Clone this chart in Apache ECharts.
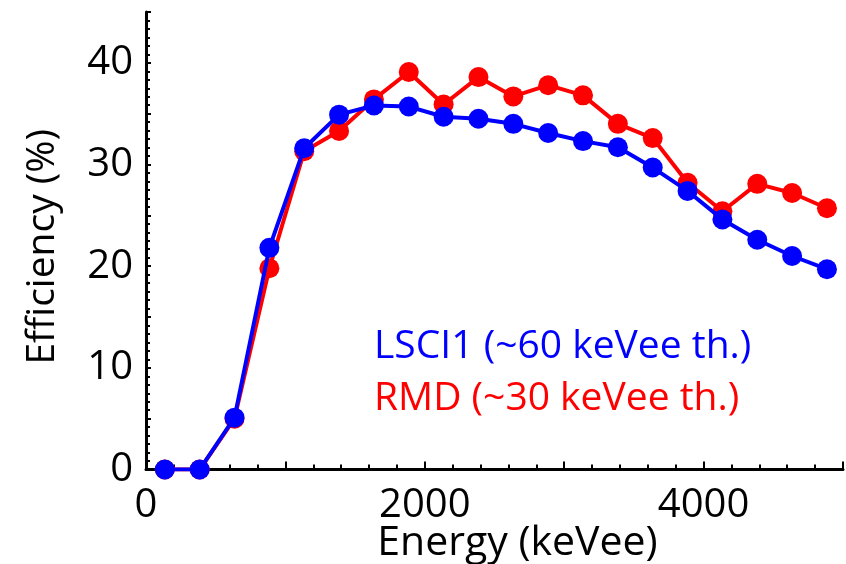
<!DOCTYPE html>
<html>
<head>
<meta charset="utf-8">
<script src="https://cdn.jsdelivr.net/npm/echarts@6/dist/echarts.min.js"></script>
<style>html,body{margin:0;padding:0;background:#fff;}#c{width:846px;height:564px;}</style>
</head>
<body>
<div id="c"></div>
<script>
var energies = [135, 385, 635, 885, 1135, 1385, 1635, 1885, 2135, 2385, 2635, 2885, 3135, 3385, 3635, 3885, 4135, 4385, 4635, 4885];
var lsciValues = [0, 0, 5.1, 21.8, 31.6, 34.9, 35.8, 35.7, 34.7, 34.5, 34.0, 33.1, 32.3, 31.7, 29.7, 27.4, 24.6, 22.6, 21.0, 19.7];
var rmdValues = [0, 0, 5.0, 19.8, 31.3, 33.3, 36.4, 39.1, 35.9, 38.6, 36.7, 37.8, 36.8, 34.0, 32.6, 28.2, 25.4, 28.1, 27.2, 25.7];
var xTickLabels = ['0', '2000', '4000'];
var yTickLabels = ['0', '10', '20', '30', '40'];
var legendTexts = ['LSCI1 (~60 keVee th.)', 'RMD (~30 keVee th.)'];

function pairs(xs, ys) { return xs.map(function (x, i) { return [x, ys[i]]; }); }

var FONT = 'Open Sans';
var chart = echarts.init(document.getElementById('c'), null, { renderer: 'canvas' });
chart.setOption({
  animation: false,
  backgroundColor: '#ffffff',
  grid: { left: 146, right: 3, top: 12, bottom: 94.5, containLabel: false, outerBoundsMode: 'none' },
  xAxis: {
    type: 'value', min: 0, max: 5000, interval: 1000,
    name: 'Energy (keVee)', nameLocation: 'middle', nameGap: 53, nameMoveOverlap: false,
    nameTextStyle: { fontFamily: FONT, fontSize: 41, color: '#000', padding: [0, 0, 0, 46] },
    axisLine: { show: true, lineStyle: { color: '#000', width: 3 } },
    axisTick: { show: true, inside: true, length: 8, lineStyle: { color: '#000', width: 2 } },
    minorTick: { show: true, splitNumber: 5, length: 5, lineStyle: { color: '#000', width: 2 } },
    splitLine: { show: false },
    axisLabel: {
      fontFamily: FONT, fontSize: 40, color: '#000', margin: 16,
      formatter: function (v) { var s = String(v); return xTickLabels.indexOf(s) >= 0 ? s : ''; }
    }
  },
  yAxis: {
    type: 'value', min: 0, max: 45, interval: 5,
    name: 'Efficiency (%)', nameLocation: 'middle', nameGap: 84, nameMoveOverlap: false,
    nameTextStyle: { fontFamily: FONT, fontSize: 39, color: '#000', padding: [0, 12, 0, 0] },
    axisLine: { show: true, lineStyle: { color: '#000', width: 3 } },
    axisTick: { show: true, inside: true, length: 5, lineStyle: { color: '#000', width: 2 } },
    minorTick: { show: true, splitNumber: 6, length: 4, lineStyle: { color: '#000', width: 2 } },
    splitLine: { show: false },
    axisLabel: {
      fontFamily: FONT, fontSize: 40, color: '#000', margin: 13,
      formatter: function (v) { var s = String(v); return yTickLabels.indexOf(s) >= 0 ? s : ''; }
    }
  },
  series: [
    {
      name: 'RMD', type: 'line', data: pairs(energies, rmdValues),
      symbol: 'circle', symbolSize: 20, z: 2,
      lineStyle: { color: '#ff0000', width: 4 },
      itemStyle: { color: '#ff0000' }
    },
    {
      name: 'LSCI1', type: 'line', data: pairs(energies, lsciValues),
      symbol: 'circle', symbolSize: 20, z: 3,
      lineStyle: { color: '#0000ff', width: 4 },
      itemStyle: { color: '#0000ff' }
    }
  ],
  graphic: [
    { type: 'text', left: 374, top: 327, z: 10,
      style: { text: legendTexts[0], fontFamily: FONT, fontSize: 39, fill: '#0000ff' } },
    { type: 'text', left: 374, top: 379, z: 10,
      style: { text: legendTexts[1], fontFamily: FONT, fontSize: 39, fill: '#ff0000' } }
  ]
});
</script>
</body>
</html>
